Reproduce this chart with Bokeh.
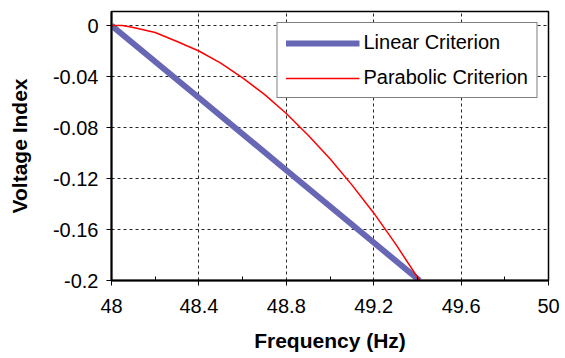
from bokeh.plotting import figure
from bokeh.models import FixedTicker, Range1d, Legend, LegendItem
from bokeh.embed import file_html
from bokeh.resources import INLINE

# data
freq_linear = [48.0, 48.4, 48.8, 49.2, 49.41]
v_linear = [0.0, -0.0567, -0.1135, -0.1702, -0.2]

freq_parabolic = [48.0, 48.05, 48.1, 48.2, 48.3, 48.4, 48.5, 48.6, 48.7, 48.8,
                  48.9, 49.0, 49.1, 49.2, 49.3, 49.41]
v_parabolic = [0.0, 0.0, -0.0015, -0.0055, -0.0125, -0.020, -0.0295, -0.041,
               -0.054, -0.069, -0.086, -0.1045, -0.125, -0.147, -0.1713, -0.2]

x_ticks = [48.0, 48.4, 48.8, 49.2, 49.6, 50.0]
x_tick_labels = ["48", "48.4", "48.8", "49.2", "49.6", "50"]
x_minor = [48.2, 48.6, 49.0, 49.4, 49.8]
y_ticks = [0.0, -0.04, -0.08, -0.12, -0.16, -0.2]
y_tick_labels = ["0", "-0.04", "-0.08", "-0.12", "-0.16", "-0.2"]

FONT = "Liberation Sans"

p = figure(width=565, height=358, output_backend="svg", toolbar_location=None,
           x_range=Range1d(48, 50), y_range=Range1d(-0.2, 0.011),
           min_border_left=111, min_border_right=17, min_border_top=11,
           min_border_bottom=78)
p.background_fill_color = "white"
p.border_fill_color = "white"
p.outline_line_color = "black"
p.outline_line_width = 1.5

# axes
p.xaxis.ticker = FixedTicker(ticks=x_ticks, minor_ticks=x_minor)
p.xaxis.major_label_overrides = {t: l for t, l in zip(x_ticks, x_tick_labels)}
p.yaxis.ticker = FixedTicker(ticks=y_ticks, minor_ticks=[])
p.yaxis.major_label_overrides = {t: l for t, l in zip(y_ticks, y_tick_labels)}

for ax in (p.xaxis, p.yaxis):
    ax.axis_line_color = "black"
    ax.axis_line_width = 2
    ax.major_tick_line_color = "black"
    ax.major_tick_line_width = 1
    ax.major_tick_in = 0
    ax.major_tick_out = 5
    ax.minor_tick_line_color = "black"
    ax.minor_tick_in = 4
    ax.minor_tick_out = 0
    ax.major_label_text_font = FONT
    ax.major_label_text_font_size = "20px"
    ax.major_label_text_color = "black"
    ax.axis_label_text_font = FONT
    ax.axis_label_text_font_size = "21px"
    ax.axis_label_text_font_style = "bold"
    ax.axis_label_text_color = "black"

p.xaxis.axis_label = "Frequency (Hz)"
p.yaxis.axis_label = "Voltage Index"
p.xaxis.major_label_standoff = 13
p.xaxis.axis_label_standoff = 13
p.yaxis.major_label_standoff = 8
p.yaxis.axis_label_standoff = 19

# grid
for g in (p.xgrid, p.ygrid):
    g.grid_line_color = "black"
    g.grid_line_width = 1
    g.grid_line_dash = "3 3"
    g.grid_line_alpha = 0.85

r_lin = p.line(freq_linear, v_linear, line_color="#6767b5", line_width=6)
r_par = p.line(freq_parabolic, v_parabolic, line_color="#ff0000", line_width=1.5)

legend = Legend(items=[LegendItem(label="Linear Criterion", renderers=[r_lin]),
                       LegendItem(label="Parabolic Criterion", renderers=[r_par])],
                location="top_right", margin=11, padding=8, spacing=12,
                glyph_width=74, glyph_height=20, label_standoff=4,
                label_text_font=FONT, label_text_font_size="20px",
                label_text_color="black",
                border_line_color="black", border_line_width=1,
                background_fill_color="white", background_fill_alpha=1)
p.add_layout(legend)

open("out.html", "w").write(file_html(p, INLINE))
